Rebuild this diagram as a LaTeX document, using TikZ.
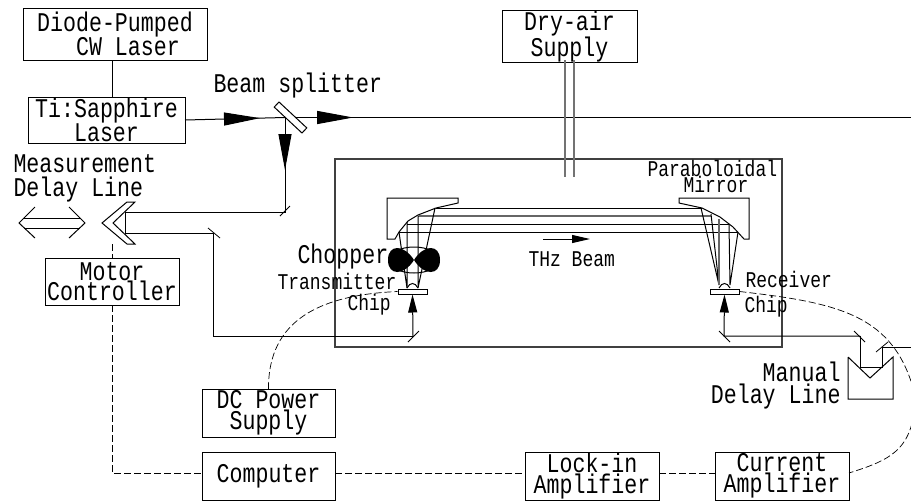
\documentclass[tikz,border=0pt]{standalone}
\usepackage{fontspec}
\setmainfont{Liberation Mono}[FakeStretch=0.8]
\usetikzlibrary{arrows.meta,positioning,decorations.markings}
\tikzset{
	block/.style={draw,
	line width=1pt,
	inner sep=0pt,
	outer sep=0pt,
	align=center,
	font=\fontsize{27}{21}\selectfont},
	biglabel/.style={inner sep=0pt,anchor=base west,font=\fontsize{27}{24}\selectfont},
	smalllabel/.style={inner sep=0pt,anchor=base west,font=\fontsize{22.5}{16}\selectfont},
	signal/.style={line width=.7pt,dash pattern=on 7pt off 3pt},
	tick/.style={line width=.8pt},
	beamhead/.style={postaction={decorate,decoration={markings,
	mark=at position #1 with {\arrow{Triangle[length=36pt,width=13pt]}}}}},
}
\begin{document}
\begin{tikzpicture}[x=1pt,y=-1pt,line width=1pt]
	\useasboundingbox (0,0) rectangle (911,501);
	\clip (0,0) rectangle (911,501);

	% draw chamber
	\draw[line width=1.1pt,black!75] (335,159) rectangle (782,347);

	% draw rectangle node
	\node[block,
	minimum width=184pt,
	minimum height=52pt,
	align=left,
	font=\fontsize{27}{24}\selectfont] (pump) at (115,34) {
	Diode-Pumped\\\ \ \ CW Laser
	};
	\node[block,
	minimum width=157pt,
	minimum height=46pt,
	below=37pt of pump,
	xshift=-8.5pt,
	font=\fontsize{27}{19}\selectfont] (ti) {
	Ti:Sapphire\\Laser
	};
	\node[block,
	minimum width=135pt,
	minimum height=47pt] (dry) at (569.5,36.5) {
	Dry-air\\Supply
	};
	\node[block,
	minimum width=134pt,
	minimum height=47pt,
	font=\fontsize{27}{20}\selectfont] (motor) at (112,281.5) {
	Motor\\Controller
	};
	\node[block,
	minimum width=133pt,
	minimum height=48pt] (computer) at (268.5,476) {
	\hspace*{13pt}Computer
	};
	\node[block,
	minimum width=133pt,
	minimum height=48pt,
	above=15pt of computer] (dc) {
	DC Power\\Supply
	};
	\node[block,
	minimum width=134pt,
	minimum height=48pt,
	right=190pt of computer] (lockin) {
	Lock-in\\Amplifier
	};
	\node[block,
	minimum width=134pt,
	minimum height=48pt,
	right=56pt of lockin] (current) {
	Current\\Amplifier
	};

	% Labels
	\node[biglabel] (splitlabel) at (213,92) {Beam splitter};
	\node[biglabel] (measlabel) at (13,172) {Measurement};
	\node[biglabel] (delaylabel) at (13,196) {Delay Line};
	\node[biglabel] (choplabel) at (297,263) {Chopper};
	\node[smalllabel] (txlabel) at (277,289) {Transmitter};
	\node[smalllabel] (txchiplabel) at (347,310) {Chip};
	\node[smalllabel] (mirlabel) at (647,176) {Paraboloidal};
	\node[smalllabel] (mirlabelb) at (683,192) {Mirror};
	\node[smalllabel] (rxlabel) at (745,287) {Receiver};
	\node[smalllabel] (rxchiplabel) at (744,312) {Chip};
	\node[smalllabel] (thzlabel) at (528,266) {THz Beam};
	\node[biglabel,anchor=base east] (manlabel) at (841,381) {Manual};
	\node[biglabel,anchor=base east] (manlabelb) at (841,403) {Delay Line};

	% Fixed points of the beam path
	\coordinate (split) at (285,117.5);
	\coordinate (farright) at (911,117.5);
	\coordinate (m1) at (285,212.5);
	\coordinate (retro) at (125,212.5);
	\coordinate (retrob) at (125,233);
	\coordinate (m2) at (213,233);
	\coordinate (m3) at (213,336);
	\coordinate (m4) at (413,336);
	\coordinate (m5) at (724,336);
	\coordinate (m6) at (860,336);
	\coordinate (m7) at (860,367);
	\coordinate (m8) at (882,367);
	\coordinate (m9) at (882,347);
	\coordinate (m10) at (911,347);
	\coordinate (retrofoot) at (112,244);

	% Chips
	\node[draw,fill=white,minimum width=29pt,minimum height=5pt,inner sep=0pt] (txchip) at (412.5,291.5) {};
	\node[draw,fill=white,minimum width=29pt,minimum height=5pt,inner sep=0pt] (rxchip) at (724.5,291.5) {};

	% Arrows
	\draw[beamhead=.75] (ti.east) -- (split);
	\draw[beamhead=.109] (split) -- (farright);
	\draw[beamhead=.553] (split) -- (m1);
	\draw (m1) -- (retro);
	\draw (retro) -- (retrob) -- (m2) -- (m3) -- (m4);
	\draw[-{Triangle[length=18pt,width=9pt]}] (m4) -- (txchip.south);
	\draw[-{Triangle[length=18pt,width=9pt]}] (m6) -- (m5) -- (rxchip.south);
	\draw (m6) -- (m7) -- (m8) -- (m9) -- (m10);
	\draw (motor.north |- pump.south) -- (motor.north |- ti.north);
	\draw[line width=1.2pt,black!55] (565,60) -- (565,177) (574,60) -- (574,177);
	\draw[-{Triangle[length=18pt,width=8pt]}] (543,239) -- (590,239);

	% Beam splitter on top of the beam
	\node[draw,fill=white,rotate=-43,minimum width=38pt,minimum height=7pt,inner sep=0pt] (splitter) at (290.5,117.5) {};

	% Mirrors on the way
	\draw[tick] (280,216) -- (290,206);
	\draw[tick] (208,228) -- (220,238);
	\draw[tick] (408,342) -- (419,331);
	\draw[tick] (719,331) -- (730,342);
	\draw[tick] (854,331) -- (865,342);
	\draw[tick] (876,352) -- (888,342);

	% Measurement delay line
	\draw[fill=white] (127,202) -- (135,202) -- (113,223) -- (135,244) -- (127,244) -- (102,223) -- cycle;
	\draw (35,207) -- (19,223) -- (35,238) (69,207) -- (85,223) -- (69,238);
	\draw (24,218) -- (80,218) (24,228) -- (80,228);

	% Manual delay line
	\draw (848,357) -- (848,399) -- (893,399) -- (893,357) -- (870,378) -- (848,357);

	% Paraboloidal mirrors
	\draw (387,198) -- (458,198) -- (458,203) -- (436,208) -- (418,215) -- (408,221) -- (399,232) -- (395,239) -- (387,239) -- cycle;
	\draw (679,198) -- (749,198) -- (749,239) -- (744,239) -- (733,227) -- (720,217) -- (702,208) -- (679,203) -- cycle;

	% THz beam
	\draw (436,208) -- (702,208);
	\draw[line width=1.2pt,black!60] (418,216) -- (711,216);
	\draw (407,224) -- (729,224);
	\draw (399,232) -- (738,232);
	\draw (399,232) -- (407,288) (407,222) -- (407,288);
	\draw (418,216) -- (418,288) (435,208) -- (418,288);
	\draw (701,208) -- (719,285) (711,214) -- (719,285);
	\draw[line width=1.2pt,black!60] (719,219) -- (719,285);
	\draw (729,224) -- (730,285) (738,232) -- (730,285);
	\draw (407,288) .. controls (410,282) and (415,282) .. (418,288);
	\draw (719,288) .. controls (722,282) and (727,282) .. (730,288);

	% Chopper
	\draw (414,260) ellipse (25 and 13);
	\fill (414,260) .. controls (404,244) and (388,244) .. (388,260) .. controls (388,276) and (404,276) .. (414,260)
	.. controls (424,244) and (440,244) .. (440,260) .. controls (440,276) and (424,276) .. (414,260);

	% Signal lines
	\draw[signal] (retrofoot) -- (motor.north);
	\draw[signal] (motor.south) |- ([yshift=3pt]computer.west);
	\draw[signal] ([yshift=3pt]computer.east) -- ([yshift=3pt]lockin.west);
	\draw[signal] ([yshift=3pt]lockin.east) -- ([yshift=3pt]current.west);
	\draw[signal] (dc.north) .. controls (268,320) and (320,295) .. (txchip.west);
	\draw[signal] (rxchip.east) .. controls (840,303) and (895,315) .. (915,395)
	.. controls (915,450) and (890,460) .. ([yshift=3pt]current.east);
\end{tikzpicture}
\end{document}
